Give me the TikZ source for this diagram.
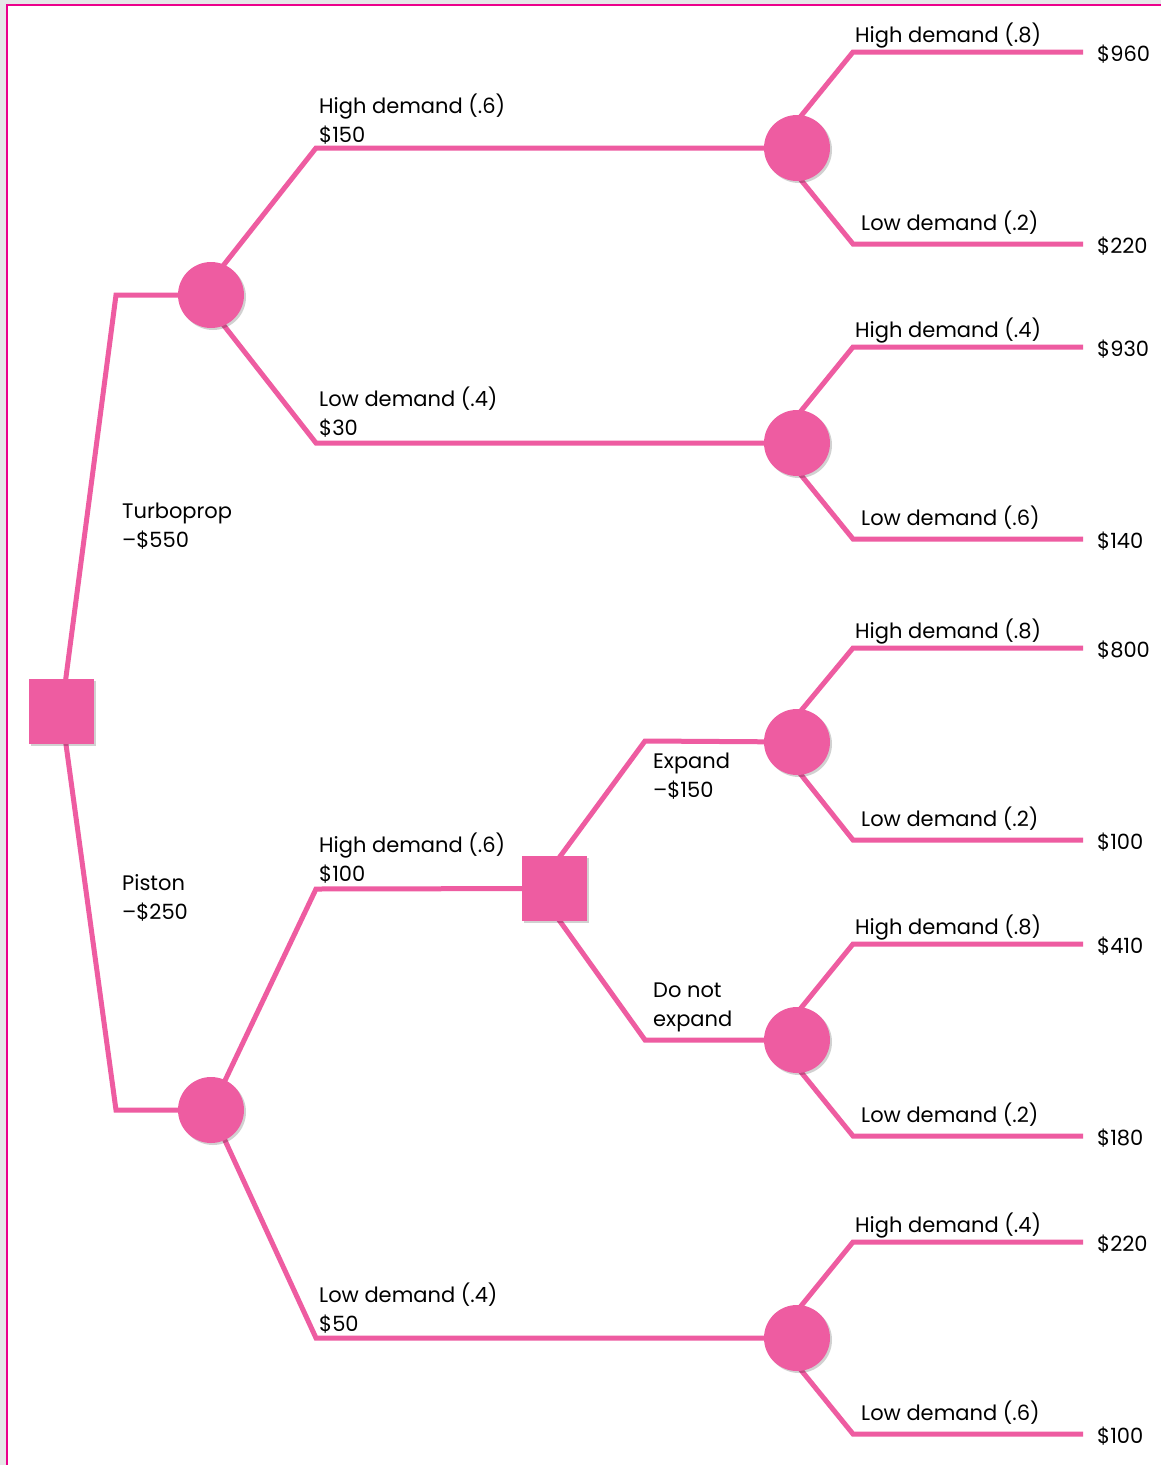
\documentclass[tikz,border=0pt]{standalone}
\usepackage{fontspec}
\setmainfont{Poppins}
\usetikzlibrary{shadows}
\definecolor{branch}{HTML}{EE5CA1}
\definecolor{framec}{HTML}{EC008C}
\definecolor{outside}{HTML}{E6E7E8}
\pgfdeclarelayer{bg}
\pgfsetlayers{bg,main}
\begin{document}
\begin{tikzpicture}[x=1pt,y=-1pt,
  chance/.style={circle,fill=branch,minimum size=66pt,inner sep=0pt,
    drop shadow={shadow xshift=2pt,shadow yshift=-2pt,fill=black,opacity=0.18}},
  decision/.style={rectangle,fill=branch,minimum size=65pt,inner sep=0pt,
    drop shadow={shadow xshift=2pt,shadow yshift=-2pt,fill=black,opacity=0.18}},
  edge/.style={draw=branch,line width=5pt,line join=miter},
  lbl/.style={anchor=base west,inner sep=0pt,font=\fontsize{21}{29}\selectfont,align=left},
]
\useasboundingbox (0,0) rectangle (1161,1465);
% nodes
\node[decision] (root) at (61.5,711.5) {};
\node[chance] (c1) at (211,295) {};
\node[chance] (c4) at (211,1110) {};
\node[decision] (d2) at (554.5,888.5) {};
\node[chance] (c2) at (797,148) {};
\node[chance] (c3) at (797,443) {};
\node[chance] (c5) at (797,742) {};
\node[chance] (c6) at (797,1040) {};
\node[chance] (c7) at (797,1338) {};
% texts (base anchor = baseline of the last line)
\node[lbl] (turbo) at (122,547) {Turboprop\\–\$550};
\node[lbl] (piston) at (122,919) {Piston\\–\$250};
\node[lbl] (t1) at (319,142) {High demand (.6)\\\$150};
\node[lbl] (t2) at (319,435) {Low demand (.4)\\\$30};
\node[lbl] (t3) at (319,881) {High demand (.6)\\\$100};
\node[lbl] (t4) at (319,1331) {Low demand (.4)\\\$50};
\node[lbl] (t5) at (653,797) {Expand\\–\$150};
\node[lbl] (t6) at (653,1026) {Do not\\expand};
\foreach \n/\y/\ph/\pl/\vh/\vl in {c2/148/.8/.2/960/220, c3/443/.4/.6/930/140,
  c5/744/.8/.2/800/100, c6/1040/.8/.2/410/180, c7/1338/.4/.6/220/100}{
  \node[lbl] (hl\n) at (855,\y-106) {High demand (\ph)};
  \node[lbl] (ll\n) at (861,\y+82) {Low demand (\pl)};
  \node[lbl] (hv\n) at (1097,\y-87) {\$\vh};
  \node[lbl] (lv\n) at (1097,\y+105) {\$\vl};
  \coordinate (he\n) at (1083,\y-96);
  \coordinate (le\n) at (1083,\y+96);
}
\begin{pgfonlayer}{bg}
  \fill[outside] (0,0) rectangle (1161,1465);
  \fill[white] (7,5) rectangle (1161,1465);
  \draw[framec,line width=2pt] (7,1465) -- (7,5) -- (1161,5);
  \draw[edge] (root.center) -- (116,295) -- (c1.center);
  \draw[edge] (root.center) -- (116,1110) -- (c4.center);
  \draw[edge] (c1.center) -- ++(-11,0) -- (316,148) -- (c2.center);
  \draw[edge] (c1.center) -- ++(-11,0) -- (316,443) -- (c3.center);
  \draw[edge] (c4.center) -- (316,889) -- (d2.center);
  \draw[edge] (c4.center) -- (316,1338) -- (c7.center);
  \draw[edge] (d2.center) -- ++(-18,0) -- (645,741) -- (c5.center);
  \draw[edge] (d2.center) -- ++(-18,0) -- (645,1040) -- (c6.center);
  \foreach \n/\y in {c2/148,c3/443,c5/744,c6/1040,c7/1338}{
    \draw[edge] (\n.center) -- ++(-22,0) -- (853,\y-96) -- (he\n);
    \draw[edge] (\n.center) -- ++(-22,0) -- (853,\y+96) -- (le\n);
  }
\end{pgfonlayer}
\end{tikzpicture}
\end{document}
